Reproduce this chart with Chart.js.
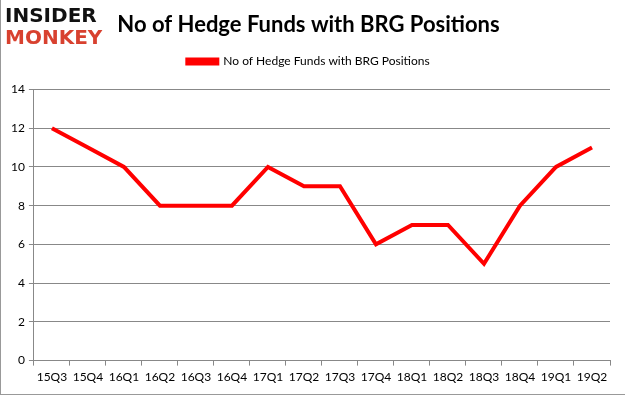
<!DOCTYPE html>
<html>
<head>
<meta charset="UTF-8">
<title>No of Hedge Funds with BRG Positions</title>
<script src="https://cdn.jsdelivr.net/npm/chart.js"></script>
<style>
    html, body { margin: 0; padding: 0; background: #fff; }
    #wrap { position: relative; width: 625px; height: 395px; box-sizing: border-box; border-left: 1px solid #999; border-bottom: 1px solid #999; }
    #logo { position: absolute; left: 4px; top: 4px; font-family: "DejaVu Sans"; font-weight: bold; font-size: 20px; line-height: 22px; letter-spacing: 0px; }
    #logo .a { color: #111; }
    #logo .b { color: #d8412f; }
</style>
</head>
<body>
<div id="wrap">
    <canvas id="myChart" width="624" height="394"></canvas>
    <div id="logo"><div class="a">INSIDER</div><div class="b">MONKEY</div></div>
</div>
<script>
    const quarters = ['15Q3', '15Q4', '16Q1', '16Q2', '16Q3', '16Q4', '17Q1', '17Q2', '17Q3', '17Q4', '18Q1', '18Q2', '18Q3', '18Q4', '19Q1', '19Q2'];
    const hedgeFunds = [12, 11, 10, 8, 8, 8, 10, 9, 9, 6, 7, 7, 5, 8, 10, 11];
    const yTicks = [0, 2, 4, 6, 8, 10, 12, 14];

    // extra room under the legend, like the original
    const legendGap = {
        id: 'legendGap',
        afterInit(chart) {
            const fit = chart.legend.fit;
            chart.legend.fit = function () {
                fit.call(this);
                this.height += 12;
            };
        }
    };

    const ctx = document.getElementById('myChart').getContext('2d');
    const myChart = new Chart(ctx, {
        type: 'line',
        data: {
            labels: quarters,
            datasets: [{
                label: 'No of Hedge Funds with BRG Positions',
                data: hedgeFunds,
                borderColor: '#ff0000',
                backgroundColor: '#ff0000',
                borderWidth: 4,
                pointRadius: 0,
                tension: 0
            }]
        },
        options: {
            responsive: false,
            animation: false,
            layout: { padding: { left: 6, right: 15, top: 8, bottom: 6 } },
            plugins: {
                title: {
                    display: true,
                    text: 'No of Hedge Funds with BRG Positions',
                    color: '#000',
                    font: { family: 'Lato', size: 22, weight: 'bold' },
                    padding: { top: 4, bottom: 7 }
                },
                legend: {
                    labels: {
                        color: '#000',
                        font: { family: 'Lato', size: 12 },
                        boxWidth: 30,
                        boxHeight: 4,
                        padding: 10
                    }
                },
                tooltip: { enabled: false }
            },
            scales: {
                x: {
                    offset: true,
                    grid: { display: true, drawOnChartArea: false, color: '#888', tickLength: 5, offset: true },
                    border: { color: '#888' },
                    ticks: { color: '#000', font: { family: 'Lato', size: 12 }, maxRotation: 0, autoSkip: false, padding: 4 }
                },
                y: {
                    min: 0,
                    max: 14,
                    afterBuildTicks: axis => { axis.ticks = yTicks.map(v => ({ value: v })); },
                    grid: { color: '#888', tickLength: 5 },
                    border: { color: '#888' },
                    ticks: { color: '#000', font: { family: 'Lato', size: 12 }, padding: 4 }
                }
            }
        },
        plugins: [legendGap]
    });
</script>
</body>
</html>
